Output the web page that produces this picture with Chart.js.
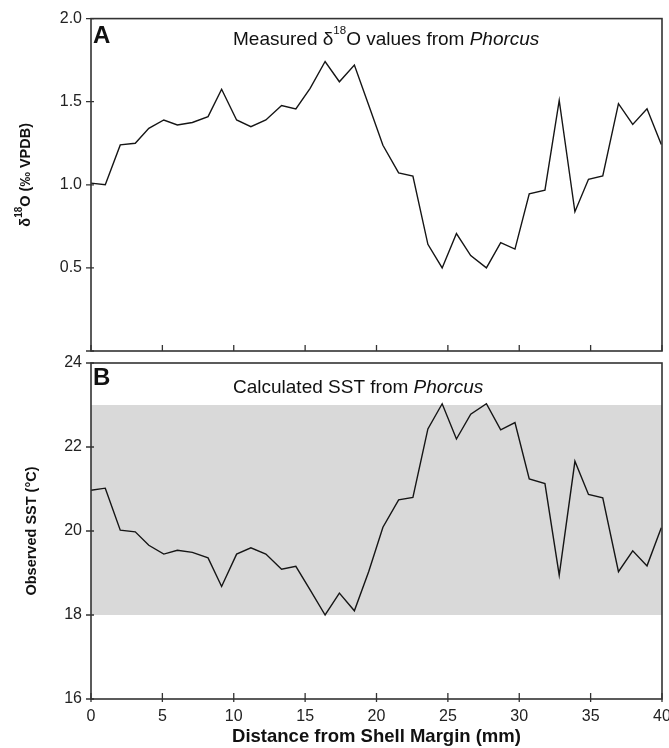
<!DOCTYPE html>
<html>
<head>
<meta charset="utf-8">
<script src="https://cdn.jsdelivr.net/npm/chart.js@4.4.1/dist/chart.umd.min.js"></script>
<style>
  html, body { margin: 0; padding: 0; background: #fff; overflow: hidden; }
  #wrap { position: relative; width: 669px; height: 748px; overflow: hidden; }
  canvas { position: absolute; left: 0; top: 0; }
</style>
</head>
<body>
<div id="wrap">
  <canvas id="chartA" width="690" height="748"></canvas>
  <canvas id="chartB" width="690" height="748"></canvas>
</div>
<script>
// distance from shell margin (mm), same sample positions for both panels
const distance = [0, 1.0, 2.05, 3.1, 4.05, 5.1, 6.05, 7.1, 8.2, 9.15,
  10.2, 11.2, 12.25, 13.35, 14.35, 15.35, 16.4, 17.4, 18.45, 19.45,
  20.45, 21.55, 22.55, 23.6, 24.6, 25.6, 26.6, 27.7, 28.7, 29.7,
  30.7, 31.8, 32.8, 33.9, 34.85, 35.85, 36.95, 37.95, 38.95, 39.95];

// panel A: measured d18O (‰ VPDB)
const d18O = [1.01, 1.00, 1.24, 1.25, 1.34, 1.39, 1.36, 1.375, 1.41, 1.575,
  1.39, 1.35, 1.39, 1.477, 1.457, 1.58, 1.742, 1.62, 1.72, 1.48,
  1.238, 1.072, 1.053, 0.642, 0.50, 0.707, 0.574, 0.50, 0.652, 0.613,
  0.945, 0.968, 1.508, 0.838, 1.033, 1.053, 1.488, 1.363, 1.457, 1.242];

// panel B: calculated SST (°C)
const sst = [20.97, 21.02, 20.02, 19.98, 19.66, 19.45, 19.54, 19.49, 19.36, 18.68,
  19.45, 19.60, 19.45, 19.09, 19.16, 18.60, 18.0, 18.52, 18.10, 19.03,
  20.09, 20.74, 20.80, 22.43, 23.03, 22.19, 22.78, 23.03, 22.41, 22.58,
  21.24, 21.13, 18.95, 21.66, 20.87, 20.79, 19.03, 19.53, 19.17, 20.08];

// observed SST range (grey band)
const observedSST = [18, 23];

const xTicks = [0, 5, 10, 15, 20, 25, 30, 35, 40];
const d18OTicks = [0, 0.5, 1.0, 1.5, 2.0];
const sstTicks = [16, 18, 20, 22, 24];

const FONT = '"Liberation Sans", Arial, Helvetica, sans-serif';
Chart.defaults.font.family = FONT;
Chart.defaults.color = '#222';

// draws pieces of text one after another (for superscripts / italics)
function drawParts(ctx, parts, x, y, align) {
  let total = 0;
  parts.forEach(p => { ctx.font = p.font; total += ctx.measureText(p.text).width; });
  let cx = align === 'center' ? x - total / 2 : x;
  ctx.textAlign = 'left';
  parts.forEach(p => {
    ctx.font = p.font;
    ctx.fillText(p.text, cx, y + (p.dy || 0));
    cx += ctx.measureText(p.text).width;
  });
}

const framePlugin = {
  id: 'frame',
  beforeDatasetsDraw(chart, args, opts) {
    if (!opts.band) return;
    const { ctx, chartArea } = chart;
    const y = chart.scales.y;
    const top = y.getPixelForValue(opts.band[1]);
    const bot = y.getPixelForValue(opts.band[0]);
    ctx.save();
    ctx.fillStyle = '#d9d9d9';
    ctx.fillRect(chartArea.left, top, chartArea.right - chartArea.left, bot - top);
    ctx.restore();
  },
  afterDraw(chart, args, opts) {
    const { ctx, chartArea } = chart;
    const xs = chart.scales.x, ys = chart.scales.y;
    ctx.save();
    ctx.strokeStyle = '#333';
    ctx.lineWidth = 1.6;
    ctx.strokeRect(chartArea.left, chartArea.top, chartArea.right - chartArea.left, chartArea.bottom - chartArea.top);

    // tick marks
    ctx.lineWidth = 1.3;
    ctx.beginPath();
    xTicks.forEach(v => {
      const px = xs.getPixelForValue(v);
      ctx.moveTo(px, chartArea.bottom + opts.xTickOut);
      ctx.lineTo(px, chartArea.bottom - 6);
    });
    opts.yTicks.forEach(v => {
      const py = ys.getPixelForValue(v);
      ctx.moveTo(chartArea.left - 5, py);
      ctx.lineTo(chartArea.left + 3, py);
    });
    ctx.stroke();

    // panel letter
    ctx.fillStyle = '#111';
    ctx.font = 'bold 24px ' + FONT;
    ctx.textAlign = 'left';
    ctx.textBaseline = 'alphabetic';
    ctx.fillText(opts.letter, chartArea.left + 2, chartArea.top + opts.letterDy);

    // panel title
    drawParts(ctx, opts.title, chartArea.left + 142, chartArea.top + opts.titleDy, 'left');

    // y axis title, rotated
    ctx.translate(opts.yTitleX, (chartArea.top + chartArea.bottom) / 2 + opts.yTitleShift);
    ctx.rotate(-Math.PI / 2);
    ctx.textBaseline = 'middle';
    drawParts(ctx, opts.yTitle, 0, 0, 'center');
    ctx.restore();
  }
};

function makePanel(id, values, yMin, yMax, yStep, pad, xShow, frameOpts) {
  const ctx = document.getElementById(id).getContext('2d');
  return new Chart(ctx, {
    type: 'line',
    data: {
      datasets: [{
        data: distance.map((d, i) => ({ x: d, y: values[i] })),
        borderColor: '#151515',
        borderWidth: 1.4,
        pointRadius: 0,
        tension: 0,
        fill: false
      }]
    },
    options: {
      responsive: false,
      animation: false,
      devicePixelRatio: 1,
      layout: { padding: pad },
      plugins: {
        legend: { display: false },
        tooltip: { enabled: false },
        frame: frameOpts
      },
      scales: {
        x: {
          type: 'linear',
          min: 0,
          max: 40,
          display: xShow,
          grid: { display: false, tickLength: 0 },
          border: { display: false },
          ticks: { stepSize: 5, padding: 8, font: { size: 16 }, color: '#222' },
          title: {
            display: true,
            text: 'Distance from Shell Margin (mm)',
            font: { size: 18.5, weight: 'bold' },
            color: '#111',
            padding: { top: 0, bottom: 0 }
          },
          afterFit: s => { if (xShow) s.height = 49; }
        },
        y: {
          min: yMin,
          max: yMax,
          grid: { display: false, tickLength: 0 },
          border: { display: false },
          ticks: {
            stepSize: yStep,
            padding: 9,
            font: { size: 16 },
            color: '#222',
            callback: v => (yStep < 1 ? (v === 0 ? '' : v.toFixed(1)) : String(v))
          },
          afterFit: s => { s.width = 91; }
        }
      }
    },
    plugins: [framePlugin]
  });
}

const titleFont = '19px ' + FONT;
const supFont = '11.5px ' + FONT;
const axisFont = 'bold 14.5px ' + FONT;

makePanel('chartA', d18O, 0, 2.0, 0.5,
  { left: 0, top: 15, right: 28, bottom: 397 }, false, {
    letter: 'A',
    letterDy: 24,
    band: null,
    yTicks: d18OTicks,
    xTickOut: 0,
    titleDy: 26,
    title: [
      { text: 'Measured δ', font: titleFont },
      { text: '18', font: supFont, dy: -11 },
      { text: 'O values from ', font: titleFont },
      { text: 'Phorcus', font: 'italic ' + titleFont }
    ],
    yTitleX: 26,
    yTitleShift: -10,
    yTitle: [
      { text: 'δ', font: axisFont },
      { text: '18', font: 'bold 10px ' + FONT, dy: -7 },
      { text: 'O (‰ VPDB)', font: axisFont }
    ]
  });

makePanel('chartB', sst, 16, 24, 2,
  { left: 0, top: 363, right: 28, bottom: 0 }, true, {
    letter: 'B',
    letterDy: 22,
    band: observedSST,
    yTicks: sstTicks,
    xTickOut: 3,
    titleDy: 29.5,
    title: [
      { text: 'Calculated SST from ', font: titleFont },
      { text: 'Phorcus', font: 'italic ' + titleFont }
    ],
    yTitleX: 32,
    yTitleShift: 0,
    yTitle: [
      { text: 'Observed SST (°C)', font: axisFont }
    ]
  });
</script>
</body>
</html>
